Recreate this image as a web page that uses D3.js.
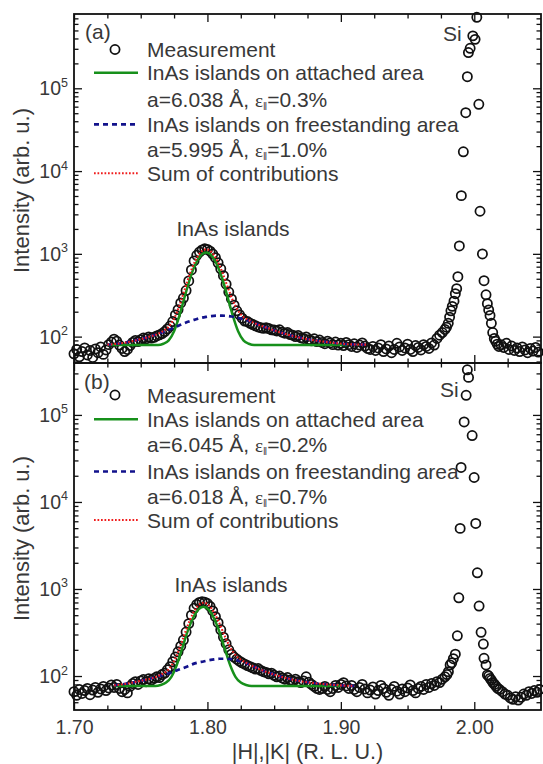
<!DOCTYPE html>
<html>
<head>
<meta charset="utf-8">
<title>InAs islands – |H|,|K| scans</title>
<script src="https://cdn.jsdelivr.net/npm/d3@7/dist/d3.min.js"></script>
<style>
  html, body { margin: 0; padding: 0; background: #fff; }
  svg { display: block; }
  text { font-family: "Liberation Sans", Arial, Helvetica, sans-serif; fill: #383838; }
</style>
</head>
<body>
<svg id="chart" width="543" height="764"></svg>
<script>
// ---------------------------------------------------------------
// Scan axis |H|,|K| (R. L. U.)
// ---------------------------------------------------------------
const hDomain = [1.70, 2.05];
const hMajorTicks = [1.70, 1.80, 1.90, 2.00];
const hMinorTicks = [1.725, 1.75, 1.775, 1.825, 1.85, 1.875, 1.925, 1.95, 1.975, 2.025];

// ---------------------------------------------------------------
// Panel (a): measured intensity
// ---------------------------------------------------------------
const hA = [
  1.700,1.702,1.704,1.706,1.708,1.710,1.712,1.714,1.716,1.718,1.720,1.722,1.724,
  1.726,1.728,1.730,1.732,1.734,1.736,1.738,1.740,1.742,1.744,1.746,1.748,1.750,1.752,1.754,1.756,
  1.758,1.760,1.762,1.764,1.766,1.768,1.770,1.772,1.774,1.776,1.778,1.780,1.782,1.784,1.786,1.788,
  1.790,1.792,1.794,1.796,1.798,1.800,1.802,1.804,1.806,1.808,1.810,1.812,1.814,1.816,1.818,1.820,
  1.822,1.824,1.826,1.828,1.830,1.832,1.834,1.836,1.838,1.840,1.842,
  1.844,1.846,1.848,1.850,1.852,1.854,1.856,1.858,1.860,1.862,1.864,1.866,1.868,1.870,1.872,1.874,
  1.876,1.878,1.880,1.882,1.884,1.886,1.888,1.890,1.892,1.894,1.896,1.898,1.900,1.902,1.904,1.906,
  1.908,1.910,1.912,1.914,1.916,1.918,1.920,
  1.922,1.924,1.926,1.928,1.930,1.932,1.934,1.936,1.938,1.940,1.942,1.944,1.946,1.948,1.950,1.952,
  1.954,1.956,1.958,1.960,1.962,1.964,1.966,1.968,1.970,
  1.972,1.974,1.976,
  1.9780,1.9792,1.9805,1.9815,1.9825,1.9835,1.9848,1.9858,1.9868,1.9877,1.9888,1.9903,1.9918,1.9936,
  1.9948,1.9956,1.9969,1.9989,2.0006,2.0019,2.0034,2.0043,2.0061,2.0073,2.0088,2.0098,2.0108,2.0118,
  2.0128,2.0138,2.0150,2.0160,2.0172,2.0184,
  2.020,2.022,2.024,2.026,2.028,2.030,2.032,2.034,2.036,2.038,2.040,2.042,2.044,2.046,2.048
];
const intensityA = [
  62,70,57,66,73,60,68,56,71,64,75,61,69,
  80,86,93,88,79,72,66,70,78,85,90,87,92,96,94,99,
  96,98,102,105,109,115,124,134,152,183,212,255,292,360,470,640,
  820,960,1050,1115,1150,1130,1075,995,900,780,660,545,430,345,285,240,
  205,184,167,154,152,145,140,135,131,128,126,
  128,125,121,120,117,121,113,110,112,106,104,100,103,97,95,99,
  92,89,94,87,91,85,82,88,84,80,86,79,83,78,85,80,
  76,82,74,79,84,77,72,
  70,76,68,73,80,66,71,77,64,70,83,75,68,73,81,70,
  66,78,74,69,80,76,72,84,79,
  95,104,112,
  122,130,145,172,205,232,268,330,380,530,1245,5050,17100,50700,
  138000,270000,304000,430000,390000,720000,64000,3270,997,474,320,250,210,180,
  145,112,95,88,81,76,
  80,74,83,70,77,68,73,66,75,69,64,72,67,74,65
];

// Panel (a): fitted contributions
const fitHA = [1.725,1.735,1.745,1.755,1.763,1.767,1.771,1.775,1.779,1.783,1.787,1.791,1.795,1.799,
  1.803,1.807,1.811,1.815,1.819,1.823,1.827,1.831,1.835,1.845,1.855,1.865,1.875,1.885,1.895,1.905,1.920];
const attachedA = [79,79,79,79,79,82,90,116,179,305,507,748,956,1040,
  956,748,507,305,179,116,90,82,79,79,79,79,79,79,79,79,null];
const freestandingA = [80,83,89,98,108,114,121,128,137,146,154,161,168,173,
  177,179,179,178,174,169,162,155,146,127,112,101,93,88,84,81,80];
const sumA = [80,83,89,98,108,117,132,165,237,372,582,830,1045,1134,
  1054,848,607,404,274,206,173,158,146,127,112,101,93,88,84,81,80];

// ---------------------------------------------------------------
// Panel (b): measured intensity
// ---------------------------------------------------------------
const hB = [
  1.700,1.702,1.704,1.706,1.708,1.710,1.712,1.714,1.716,1.718,1.720,1.722,1.724,1.726,1.728,1.730,
  1.732,1.734,1.736,1.738,1.740,1.742,1.744,1.746,1.748,1.750,1.752,1.754,1.756,1.758,1.760,1.762,
  1.764,1.766,1.768,1.770,
  1.772,1.774,1.776,1.778,1.780,1.782,1.784,1.786,1.788,1.790,1.792,1.794,1.796,1.798,1.800,1.802,
  1.804,1.806,1.808,1.810,1.812,1.814,1.816,1.818,1.820,1.822,1.824,1.826,1.828,1.830,1.832,1.834,
  1.836,1.838,1.840,1.842,
  1.844,1.846,1.848,1.850,1.852,1.854,1.856,1.858,1.860,1.862,1.864,1.866,1.868,1.870,1.872,1.874,
  1.876,1.878,1.880,1.882,1.884,1.886,1.888,1.890,1.892,1.894,1.896,1.898,1.900,1.902,1.904,1.906,
  1.908,1.910,
  1.912,1.914,1.916,1.918,1.920,1.922,1.924,1.926,1.928,1.930,1.932,1.934,1.936,1.938,1.940,1.942,
  1.944,1.946,1.948,1.950,1.952,1.954,1.956,1.958,1.960,1.962,1.964,1.966,1.968,1.970,1.972,1.974,
  1.976,1.978,
  1.9795,1.9806,1.9819,1.9831,1.9843,1.9858,1.9873,1.9884,1.9894,1.9901,1.9924,1.9939,1.9948,1.9957,
  1.9984,1.9999,2.0011,2.0023,2.0036,2.0051,2.0068,2.0073,2.0088,2.0098,2.0108,2.0118,2.0128,2.0140,
  2.0152,2.0164,2.0176,
  2.019,2.021,2.023,2.025,2.027,2.029,2.031,2.033,2.035,2.037,2.039,2.041,2.043,2.045,2.047,2.049
];
const intensityB = [
  66,60,70,63,68,72,61,69,74,65,71,76,68,73,79,74,
  80,72,66,70,64,76,82,86,80,88,91,86,93,90,94,98,
  96,104,108,118,
  128,146,165,190,220,259,320,400,500,600,665,700,712,705,680,630,
  560,480,410,340,280,235,200,178,165,156,148,142,137,132,128,124,
  120,122,116,112,
  110,106,108,102,98,100,95,92,96,90,88,92,86,84,88,98,
  85,80,76,72,70,72,76,70,66,72,78,74,80,84,77,72,
  78,70,
  66,74,80,71,64,69,75,62,68,78,72,65,60,70,76,67,
  62,71,66,73,79,68,64,72,76,70,80,74,82,78,86,84,
  92,98,
  104,112,134,142,158,178,290,793,4970,24900,83000,168000,330000,270000,
  58000,19100,5660,1535,637,318,233,160,134,103,100,94,90,84,
  80,76,72,
  70,66,62,60,56,54,58,53,57,62,60,66,63,68,65,70
];

// Panel (b): fitted contributions
const fitHB = [1.730,1.740,1.750,1.757,1.761,1.765,1.769,1.773,1.777,1.781,1.785,1.789,1.793,1.797,
  1.801,1.805,1.809,1.813,1.817,1.821,1.825,1.829,1.833,1.840,1.850,1.860,1.870,1.880,1.890,1.900,1.910];
const attachedB = [77,77,77,77,77,79,84,98,134,206,321,458,577,625,
  577,458,321,206,134,98,84,79,77,77,77,77,77,77,77,77,null];
const freestandingB = [78,82,88,93,97,101,105,110,116,122,129,137,143,147,
  152,155,158,158,157,153,147,140,132,118,104,94,87,83,80,78,77];
const sumB = [78,82,88,93,97,103,112,131,173,251,373,518,643,695,
  652,536,402,287,214,174,154,142,132,118,104,94,87,83,80,78,77];

// ---------------------------------------------------------------
// Labels
// ---------------------------------------------------------------
const legendLabels = ["Measurement", "InAs islands on attached area",
  "InAs islands on freestanding area", "Sum of contributions"];
const latticeA = ["6.038", "5.995"], strainA = ["0.3", "1.0"];
const latticeB = ["6.045", "6.018"], strainB = ["0.2", "0.7"];
const panelTags = ["(a)", "(b)"];
const peakLabels = ["InAs islands", "Si"];
const yAxisTitle = "Intensity (arb. u.)";
const xAxisTitle = "|H|,|K| (R. L. U.)";

// ---------------------------------------------------------------
// Drawing
// ---------------------------------------------------------------
const svg = d3.select("#chart");
const plotLeft = 74, plotRight = 541;
const x = d3.scaleLinear().domain(hDomain).range([plotLeft, plotRight]);

const ink = "#111";
const colors = { attached: "#17901b", free: "#12128c", sum: "#f01c1c" };
const textSize = "21px", tickSize = "19.5px", titleSize = "22px", xTitleSize = "21.5px";
const markerR = 4.6, markerW = 1.75;

const panels = [
  { top: 14, bottom: 363, yDomain: [48, 7.9e5],
    h: hA, I: intensityA, fitH: fitHA, attached: attachedA, free: freestandingA, sum: sumA,
    lattice: latticeA, strain: strainA, tag: panelTags[0],
    tagPos: [85, 39], siPos: [443, 41], islandsPos: [233, 236],
    legendY: [49.5, 72.7, 99.5, 124.3, 149.5, 173.3], xLabels: false },
  { top: 363, bottom: 710, yDomain: [40.7, 3.95e5],
    h: hB, I: intensityB, fitH: fitHB, attached: attachedB, free: freestandingB, sum: sumB,
    lattice: latticeB, strain: strainB, tag: panelTags[1],
    tagPos: [84, 389], siPos: [440, 397], islandsPos: [231, 592],
    legendY: [395, 419.3, 444.5, 471.5, 496, 520], xLabels: true }
];

function styleTicks(sel) {
  sel.select(".domain").remove();
  sel.selectAll(".tick line").attr("stroke", ink).attr("stroke-width", 1.3);
  sel.selectAll(".tick text").attr("fill", "#383838").style("font-size", tickSize)
    .style("font-family", "'Liberation Sans', Arial, sans-serif");
}

function strainLabel(g, xPos, yBase, lattice, strain) {
  const t = g.append("text").attr("x", xPos).attr("y", yBase).style("font-size", textSize);
  t.append("tspan").text(`a=${lattice} Å, `);
  t.append("tspan").style("font-family", "'Liberation Serif', 'DejaVu Serif', serif")
    .style("font-size", "19px").text("ε");
  t.append("tspan").attr("dy", 3).style("font-size", "10px").text("ǁ");
  t.append("tspan").attr("dy", -3).text(`=${strain}%`);
}

panels.forEach(p => {
  const y = d3.scaleLog().domain(p.yDomain).range([p.bottom, p.top]);
  const g = svg.append("g");

  const allTicks = y.ticks();
  const isDecade = v => Math.abs(Math.log10(v) - Math.round(Math.log10(v))) < 1e-9;
  const major = allTicks.filter(isDecade);
  const minor = allTicks.filter(v => !isDecade(v));

  // y ticks, inward on both sides
  g.append("g").attr("transform", `translate(${plotLeft},0)`)
    .call(d3.axisLeft(y).tickValues(major).tickSizeInner(-8).tickSizeOuter(0).tickFormat(() => ""))
    .call(styleTicks);
  g.append("g").attr("transform", `translate(${plotLeft},0)`)
    .call(d3.axisLeft(y).tickValues(minor).tickSizeInner(-4.5).tickSizeOuter(0).tickFormat(() => ""))
    .call(styleTicks);
  g.append("g").attr("transform", `translate(${plotRight},0)`)
    .call(d3.axisRight(y).tickValues(major).tickSizeInner(-8).tickSizeOuter(0).tickFormat(() => ""))
    .call(styleTicks);
  g.append("g").attr("transform", `translate(${plotRight},0)`)
    .call(d3.axisRight(y).tickValues(minor).tickSizeInner(-4.5).tickSizeOuter(0).tickFormat(() => ""))
    .call(styleTicks);

  // decade labels 10^n
  const lab = g.append("g").selectAll("text").data(major).join("text")
    .attr("x", plotLeft - 6).attr("y", d => y(d) + 7)
    .attr("text-anchor", "end").style("font-size", tickSize);
  lab.append("tspan").text("10");
  lab.append("tspan").attr("dy", -8.5).style("font-size", "12.5px")
    .text(d => Math.round(Math.log10(d)));

  // x ticks, inward on top and bottom
  g.append("g").attr("transform", `translate(0,${p.bottom})`)
    .call(d3.axisBottom(x).tickValues(hMajorTicks).tickSizeInner(-8).tickSizeOuter(0).tickPadding(10)
      .tickFormat(p.xLabels ? d3.format(".2f") : () => ""))
    .call(styleTicks);
  g.append("g").attr("transform", `translate(0,${p.bottom})`)
    .call(d3.axisBottom(x).tickValues(hMinorTicks).tickSizeInner(-4.5).tickSizeOuter(0).tickFormat(() => ""))
    .call(styleTicks);
  g.append("g").attr("transform", `translate(0,${p.top})`)
    .call(d3.axisTop(x).tickValues(hMajorTicks).tickSizeInner(-8).tickSizeOuter(0).tickFormat(() => ""))
    .call(styleTicks);
  g.append("g").attr("transform", `translate(0,${p.top})`)
    .call(d3.axisTop(x).tickValues(hMinorTicks).tickSizeInner(-4.5).tickSizeOuter(0).tickFormat(() => ""))
    .call(styleTicks);

  // measured points (open circles)
  g.append("g").selectAll("circle").data(d3.zip(p.h, p.I)).join("circle")
    .attr("cx", d => x(d[0])).attr("cy", d => y(d[1])).attr("r", markerR)
    .attr("fill", "none").attr("stroke", ink).attr("stroke-width", markerW);

  // fitted contributions
  const fit = p.fitH.map((h, i) => ({ h, a: p.attached[i], f: p.free[i], s: p.sum[i] }));
  const line = key => d3.line().defined(d => d[key] != null)
    .x(d => x(d.h)).y(d => y(d[key])).curve(d3.curveMonotoneX);
  g.append("path").datum(fit).attr("d", line("a")).attr("fill", "none")
    .attr("stroke", colors.attached).attr("stroke-width", 2.5);
  g.append("path").datum(fit).attr("d", line("f")).attr("fill", "none")
    .attr("stroke", colors.free).attr("stroke-width", 2.7).attr("stroke-dasharray", "5,4");
  g.append("path").datum(fit).attr("d", line("s")).attr("fill", "none")
    .attr("stroke", colors.sum).attr("stroke-width", 2.1).attr("stroke-dasharray", "1.7,1.8");

  // frame
  g.append("rect").attr("x", plotLeft).attr("y", p.top)
    .attr("width", plotRight - plotLeft).attr("height", p.bottom - p.top)
    .attr("fill", "none").attr("stroke", ink).attr("stroke-width", 1.8);

  // annotations
  g.append("text").attr("x", p.tagPos[0]).attr("y", p.tagPos[1]).style("font-size", textSize).text(p.tag);
  g.append("text").attr("x", p.siPos[0]).attr("y", p.siPos[1]).style("font-size", textSize).text(peakLabels[1]);
  g.append("text").attr("x", p.islandsPos[0]).attr("y", p.islandsPos[1])
    .attr("text-anchor", "middle").style("font-size", textSize).text(peakLabels[0]);

  // legend
  const lx0 = 94, lx1 = 138, tx = 147, ly = p.legendY;
  g.append("circle").attr("cx", 115).attr("cy", ly[0]).attr("r", markerR)
    .attr("fill", "none").attr("stroke", ink).attr("stroke-width", markerW);
  g.append("line").attr("x1", lx0).attr("x2", lx1).attr("y1", ly[1]).attr("y2", ly[1])
    .attr("stroke", colors.attached).attr("stroke-width", 2.5);
  g.append("line").attr("x1", lx0).attr("x2", lx1).attr("y1", ly[3]).attr("y2", ly[3])
    .attr("stroke", colors.free).attr("stroke-width", 2.7).attr("stroke-dasharray", "5,4");
  g.append("line").attr("x1", lx0).attr("x2", lx1).attr("y1", ly[5]).attr("y2", ly[5])
    .attr("stroke", colors.sum).attr("stroke-width", 2.1).attr("stroke-dasharray", "1.7,1.8");
  g.append("text").attr("x", tx).attr("y", ly[0] + 7.5).style("font-size", textSize).text(legendLabels[0]);
  g.append("text").attr("x", tx).attr("y", ly[1] + 7.5).style("font-size", textSize).text(legendLabels[1]);
  strainLabel(g, tx, ly[2] + 7.5, p.lattice[0], p.strain[0]);
  g.append("text").attr("x", tx).attr("y", ly[3] + 7.5).style("font-size", textSize).text(legendLabels[2]);
  strainLabel(g, tx, ly[4] + 7.5, p.lattice[1], p.strain[1]);
  g.append("text").attr("x", tx).attr("y", ly[5] + 7.5).style("font-size", textSize).text(legendLabels[3]);

  // y-axis title
  svg.append("text")
    .attr("transform", `translate(29,${(p.top + p.bottom) / 2 + 2}) rotate(-90)`)
    .attr("text-anchor", "middle").style("font-size", titleSize).text(yAxisTitle);
});

// x-axis title
svg.append("text").attr("x", (plotLeft + plotRight) / 2).attr("y", 758.5)
  .attr("text-anchor", "middle").style("font-size", xTitleSize).text(xAxisTitle);
</script>
</body>
</html>
